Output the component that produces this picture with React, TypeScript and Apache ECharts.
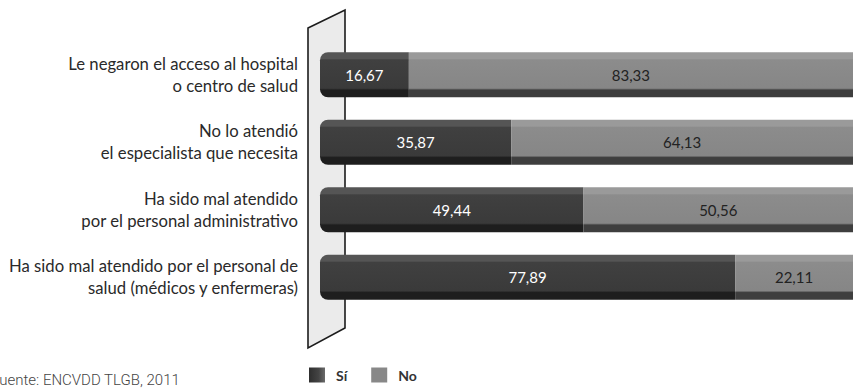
import React, { useEffect, useRef } from "react";
import * as echarts from "echarts";

const categories = [
  "Le negaron el acceso al hospital\no centro de salud",
  "No lo atendió\nel especialista que necesita",
  "Ha sido mal atendido\npor el personal administrativo",
  "Ha sido mal atendido por el personal de\nsalud (médicos y enfermeras)",
];
const siValues = [16.67, 35.87, 49.44, 77.89];
const noValues = [83.33, 64.13, 50.56, 22.11];
const seriesNames = ["Sí", "No"];
const sourceText = "Fuente: ENCVDD TLGB, 2011";

const fmt = (v: number) => v.toFixed(2).replace(".", ",");

const vGrad = (top: string, face: string, mid: string, dark: string) =>
  new echarts.graphic.LinearGradient(0, 0, 0, 1, [
    { offset: 0, color: top },
    { offset: 0.14, color: top },
    { offset: 0.17, color: face },
    { offset: 0.8, color: mid },
    { offset: 0.84, color: dark },
    { offset: 1, color: dark },
  ]);

export default function App() {
  const ref = useRef<HTMLDivElement>(null);
  useEffect(() => {
    document.body.style.margin = "0";
    if (!ref.current) return;
    const chart = echarts.init(ref.current, null, { renderer: "svg" });
    const font = "Lato, 'Open Sans', sans-serif";
    chart.setOption({
      animation: false,
      backgroundColor: "#ffffff",
      grid: { left: 320, right: -3, top: 41, bottom: 77, containLabel: false },
      xAxis: { type: "value", min: 0, max: 100, show: false },
      yAxis: {
        type: "category",
        data: categories,
        inverse: true,
        axisLine: { show: false },
        axisTick: { show: false },
        splitLine: { show: false },
        axisLabel: {
          margin: 22,
          fontSize: 16.7,
          lineHeight: 22,
          color: "#2a2a2a",
          fontFamily: font,
          align: "right",
        },
      },
      legend: {
        left: 309,
        top: 366,
        padding: 0,
        itemWidth: 16,
        itemHeight: 15,
        itemGap: 24,
        textStyle: { fontSize: 14, lineHeight: 18, fontWeight: "bold", color: "#333", fontFamily: font, padding: [0, 0, 0, 6] },
        data: [
          {
            name: seriesNames[0],
            icon: "rect",
            itemStyle: {
              color: new echarts.graphic.LinearGradient(0, 0, 1, 0, [
                { offset: 0, color: "#2e2e2e" },
                { offset: 0.6, color: "#444" },
                { offset: 1, color: "#6a6a6a" },
              ]),
            },
          },
          {
            name: seriesNames[1],
            icon: "rect",
            itemStyle: { color: "#888888" },
          },
        ],
      },
      graphic: [
        {
          type: "polygon",
          z: 0,
          shape: { points: [[308, 28], [345, 10], [345, 328], [308, 348]] },
          style: { fill: "#ebebeb", stroke: "#1c1c1c", lineWidth: 1.6 },
        },
        {
          type: "text",
          x: -9,
          y: 372,
          style: {
            text: sourceText,
            font: "300 15px Roboto, sans-serif",
            fill: "#444",
          },
        },
      ],
      series: [
        {
          name: seriesNames[0],
          type: "bar",
          stack: "t",
          barWidth: 45,
          z: 3,
          data: siValues,
          itemStyle: {
            color: vGrad("#555555", "#404040", "#3a3a3a", "#1e1e1e"),
            borderRadius: [8, 0, 0, 8],
          },
          label: {
            show: true,
            position: "inside",
            color: "#ffffff",
            fontSize: 15,
            fontFamily: font,
            formatter: (p: any) => fmt(p.value),
          },
        },
        {
          name: seriesNames[1],
          type: "bar",
          stack: "t",
          barWidth: 45,
          z: 3,
          data: noValues,
          itemStyle: {
            color: vGrad("#9a9a9a", "#8c8c8c", "#868686", "#3e3e3e"),
          },
          label: {
            show: true,
            position: "inside",
            color: "#222222",
            fontSize: 15,
            fontFamily: font,
            formatter: (p: any) => fmt(p.value),
          },
        },
      ],
    });
    return () => chart.dispose();
  }, []);
  return <div ref={ref} style={{ width: 853, height: 388 }} />;
}
